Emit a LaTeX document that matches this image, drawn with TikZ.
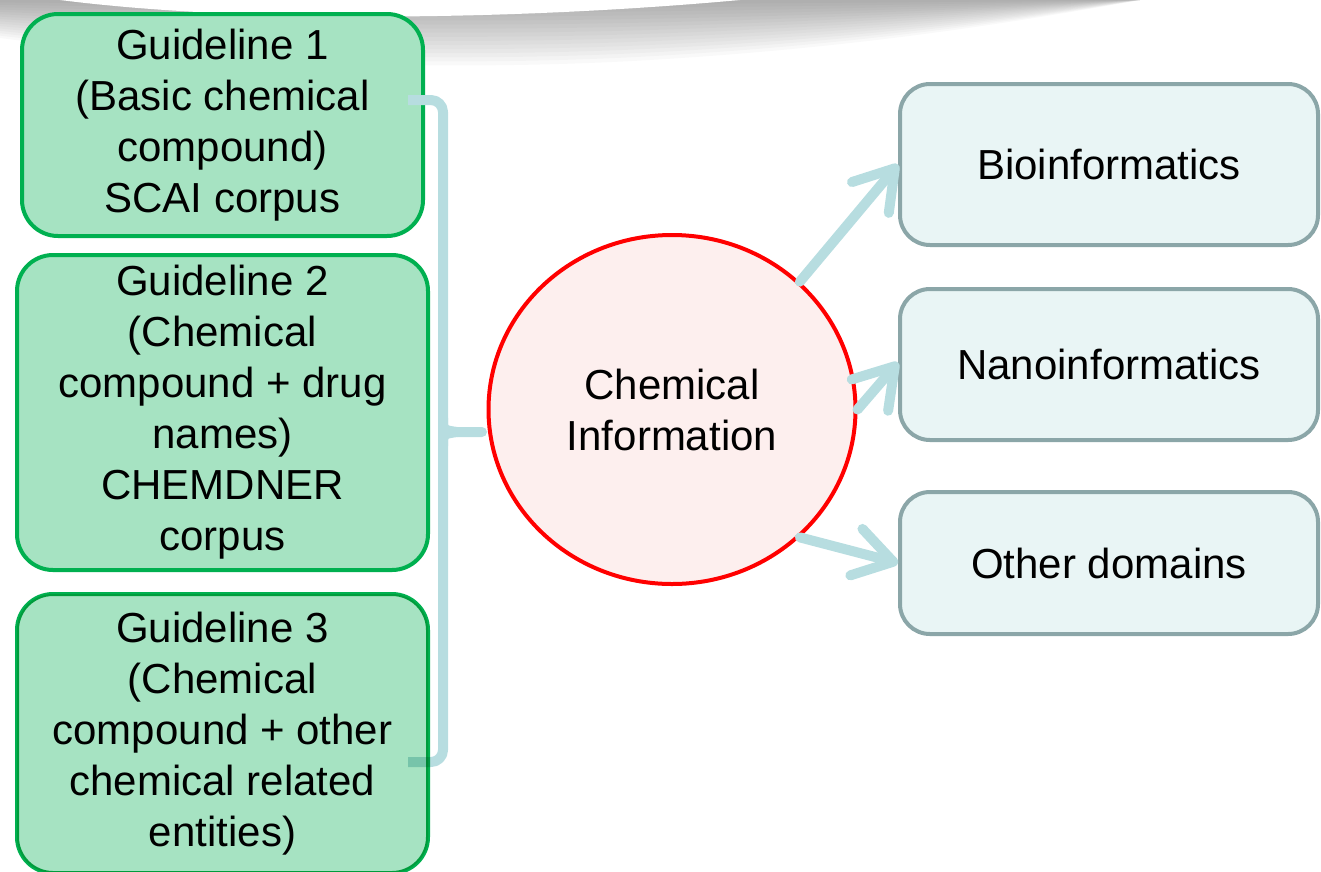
\documentclass[tikz,border=0pt]{standalone}
\usepackage{fontspec}
\setmainfont{Liberation Sans}
\usetikzlibrary{shapes.geometric,arrows.meta}

\definecolor{gfill}{RGB}{166,227,194}
\definecolor{gline}{RGB}{0,176,80}
\definecolor{cfill}{RGB}{253,239,238}
\definecolor{cline}{RGB}{255,0,0}
\definecolor{bfill}{RGB}{233,245,245}
\definecolor{bline}{RGB}{139,166,168}
\definecolor{link}{RGB}{183,221,224}

\begin{document}
\begin{tikzpicture}[x=1pt,y=-1pt,
  every node/.style={font=\fontsize{42}{51}\selectfont, align=center, inner sep=0pt},
  guidebox/.style={draw=gline, fill=gfill, line width=4pt, rounded corners=36pt},
  fieldbox/.style={draw=bline, fill=bfill, line width=4pt, rounded corners=30pt,
                 minimum width=418pt},
  hubnode/.style={ellipse, draw=cline, fill=cfill, line width=4pt,
              minimum width=367pt, minimum height=349pt},
  bracestroke/.style={draw=link, line width=10pt, line join=round},
  arr/.style={draw=link, line width=10pt, line cap=round,
              -{Straight Barb[length=38pt, width=48pt, line width=10pt, line cap=round, line join=round]}}]

\useasboundingbox (0,0) rectangle (1321,871);

% soft shadow under a curled top edge: stacked translucent layers
\foreach \k in {1,...,16}{
  \pgfmathsetmacro{\f}{\k/16}
  \fill[black, opacity=0.022]
    (0,0) -- (1140,0)
    .. controls (1000,{25*\f}) and (850,{48*\f}) .. (650,{60*\f})
    .. controls (450,{72*\f}) and (200,{64*\f}) .. (0,{38*\f}) -- cycle;
}
\fill[white] (60,0) .. controls (250,24) and (520,20) .. (740,0) -- cycle;

% guideline boxes
\node[guidebox, minimum width=401pt, minimum height=222pt] (g1) at (222.5,125)
  {Guideline 1\\(Basic chemical\\compound)\\SCAI corpus};
\node[guidebox, minimum width=411pt, minimum height=315pt] (g2) at (222.5,412.5)
  {Guideline 2\\(Chemical\\compound + drug\\names)\\CHEMDNER\\corpus};

% central hub
\node[hubnode] (chem) at (672,409.5) {Chemical\\Information};

% brace gathering the guidelines
\coordinate (bt) at (408,100);
\coordinate (bb) at (408,762);
\coordinate (btip) at (482,432);
\draw[bracestroke, line cap=butt, rounded corners=12pt]
  (bt) -- (443,100) -- (443,762) -- (bb);
\draw[bracestroke, line cap=round]
  (443,418) .. controls (443,430) .. (457,432) -- (btip);
\draw[bracestroke, line cap=round]
  (443,446) .. controls (443,434) .. (457,432);

\node[guidebox, minimum width=411pt, minimum height=279pt, blend mode=multiply] (g3) at (222.5,733.5)
  {Guideline 3\\(Chemical\\compound + other\\chemical related\\entities)};

% application domains
\node[fieldbox, minimum height=161pt] (bio)   at (1109,164.5) {Bioinformatics};
\node[fieldbox, minimum height=151pt] (nano)  at (1109,364.5) {Nanoinformatics};
\node[fieldbox, minimum height=142pt] (other) at (1109,563)   {Other domains};

% connectors from the hub
\draw[arr] (chem.45)  -- (bio.west);
\draw[arr] (chem.east) -- ([yshift=2pt]nano.west);
\draw[arr] (chem.-45) -- (other.west);
\end{tikzpicture}
\end{document}
